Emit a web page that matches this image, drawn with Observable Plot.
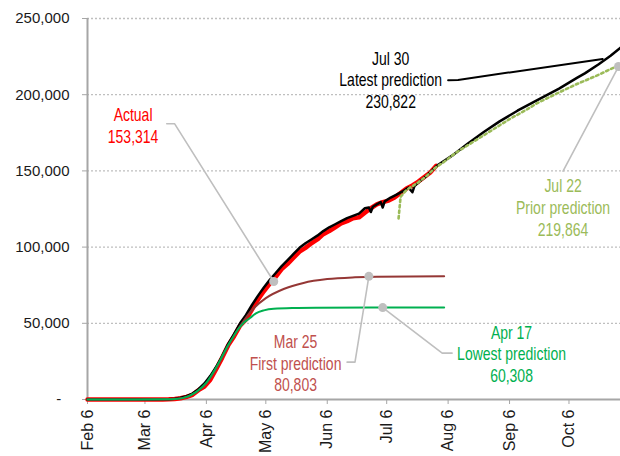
<!DOCTYPE html>
<html>
<head>
<meta charset="utf-8">
<script src="https://cdn.jsdelivr.net/npm/d3@7"></script>
<script src="https://cdn.jsdelivr.net/npm/@observablehq/plot@0.6"></script>
<style>
  html, body { margin: 0; padding: 0; background: #fff; }
  #chart svg { display: block; }
</style>
</head>
<body>
<div id="chart"></div>
<script>
// ---------- data ----------
const actualDates = ["2020-02-06","2020-02-29","2020-03-10","2020-03-15","2020-03-18","2020-03-21","2020-03-24","2020-03-27","2020-03-30","2020-04-02","2020-04-05","2020-04-08","2020-04-11","2020-04-14","2020-04-17","2020-04-20","2020-04-23","2020-04-26","2020-04-29","2020-05-02","2020-05-05","2020-05-08","2020-05-11","2020-05-14","2020-05-17","2020-05-20","2020-05-23","2020-05-26","2020-05-29","2020-06-01","2020-06-04","2020-06-07","2020-06-10","2020-06-13","2020-06-16","2020-06-19","2020-06-22","2020-06-25","2020-06-28","2020-07-01","2020-07-04","2020-07-07","2020-07-10","2020-07-13","2020-07-16","2020-07-19","2020-07-22","2020-07-25","2020-07-28","2020-07-31"];
const actualValues = [0,1,30,65,130,340,780,1700,3100,6100,8500,13000,20000,27500,35500,41500,48500,52500,59000,65500,71000,76000,80500,85500,89000,93000,97000,99500,102500,105000,108500,110500,113000,115500,117000,119000,119500,122500,125500,128000,129500,130500,132500,135500,138500,140500,143000,146000,149000,153314];

const latestDates = ["2020-02-06","2020-03-01","2020-03-10","2020-03-15","2020-03-18","2020-03-21","2020-03-24","2020-03-27","2020-03-30","2020-04-02","2020-04-05","2020-04-08","2020-04-11","2020-04-14","2020-04-17","2020-04-20","2020-04-23","2020-04-26","2020-04-29","2020-05-02","2020-05-05","2020-05-08","2020-05-11","2020-05-14","2020-05-17","2020-05-20","2020-05-23","2020-05-26","2020-05-29","2020-06-01","2020-06-04","2020-06-07","2020-06-10","2020-06-13","2020-06-16","2020-06-19","2020-06-22","2020-06-25","2020-06-27","2020-06-28","2020-06-29","2020-07-01","2020-07-03","2020-07-04","2020-07-05","2020-07-08","2020-07-11","2020-07-14","2020-07-17","2020-07-19","2020-07-20","2020-07-23","2020-07-26","2020-07-29","2020-08-01","2020-08-08","2020-08-16","2020-08-24","2020-09-01","2020-09-10","2020-09-20","2020-10-01","2020-10-10","2020-10-14","2020-10-21","2020-10-27","2020-11-01"];
const latestValues = [0,0,40,90,200,500,1100,2200,3900,6800,10500,15500,21500,28500,36500,43000,50000,55500,62000,68000,73500,78500,83000,87500,91500,95500,99500,102500,105000,107500,110500,113000,115000,117000,119000,120500,122000,125500,126000,123000,126500,128000,129500,126000,130000,132500,134500,136500,139000,136000,140000,143500,146500,150500,154000,160000,168000,175500,182500,189500,196500,204000,211000,214000,220000,225500,230822];

const priorDates = ["2020-07-12","2020-07-13","2020-07-16","2020-07-19","2020-07-22","2020-07-26","2020-07-30","2020-08-04","2020-08-10","2020-08-18","2020-08-26","2020-09-06","2020-09-15","2020-09-20","2020-10-01","2020-10-10","2020-10-20","2020-11-01"];
const priorValues = [118800,133000,137500,140000,142500,146500,151500,156000,162000,168500,175000,184000,190500,194500,201500,207000,212500,219864];

const firstDates = ["2020-02-06","2020-03-01","2020-03-15","2020-03-25","2020-04-01","2020-04-06","2020-04-10","2020-04-15","2020-04-20","2020-04-25","2020-04-30","2020-05-06","2020-05-15","2020-05-25","2020-06-06","2020-06-20","2020-07-01","2020-08-04"];
const firstValues = [0,0,100,1000,5000,10500,18000,30000,42000,52000,60000,66500,72500,76500,79000,80200,80600,80803];

const lowestDates = ["2020-02-06","2020-03-01","2020-03-20","2020-03-25","2020-04-01","2020-04-06","2020-04-10","2020-04-13","2020-04-16","2020-04-19","2020-04-22","2020-04-25","2020-04-28","2020-05-01","2020-05-05","2020-05-10","2020-05-20","2020-06-01","2020-07-01","2020-08-04"];
const lowestValues = [0,0,200,900,5000,11000,19000,26000,33500,40000,46000,50500,53500,56500,58500,59600,60050,60200,60300,60308];

const xTicks = ["2020-02-06","2020-03-06","2020-04-06","2020-05-06","2020-06-06","2020-07-06","2020-08-06","2020-09-06","2020-10-06"];
const yTicks = [0, 50000, 100000, 150000, 200000, 250000];
const xDomain = ["2020-02-06","2020-11-01"];

// annotation labels
const labelTexts  = ["Actual\n153,314", "Mar 25\nFirst prediction\n80,803", "Apr 17\nLowest prediction\n60,308", "Jul 22\nPrior prediction\n219,864", "Jul 30\nLatest prediction\n230,822"];
const labelDates  = ["2020-02-29", "2020-05-21", "2020-09-07", "2020-10-03", "2020-07-08"];
const labelValues = [168600, 5300, 11500, 107600, 191300];
const labelColors = ["#FF0000", "#C0504D", "#00B050", "#9BBB59", "#000000"];

// leader lines: [id, date, value]
const leaderIds    = ["a","a","a","f","f","f","l","l","l","p","p","k","k","k"];
const leaderDates  = ["2020-03-17","2020-03-21","2020-05-10","2020-06-16","2020-06-20","2020-06-27","2020-07-04","2020-08-03","2020-08-08","2020-10-03","2020-10-31","2020-08-06","2020-08-11","2020-10-23"];
const leaderValues = [180900,180900,77400,24500,24500,80803,60308,30400,30400,149800,218500,209500,209700,223500];
const dotDates  = ["2020-05-10","2020-06-27","2020-07-04","2020-10-31"];
const dotValues = [77400, 80803, 60308, 218500];

// ---------- build ----------
const P = d3.utcParse("%Y-%m-%d");
const rows = (ds, vs) => ds.map((d, i) => ({date: P(d), value: vs[i]}));
const actual = rows(actualDates, actualValues);
const latest = rows(latestDates, latestValues);
const prior = rows(priorDates, priorValues);
const first = rows(firstDates, firstValues);
const lowest = rows(lowestDates, lowestValues);
const labels = labelTexts.map((t, i) => ({text: t, date: P(labelDates[i]), value: labelValues[i], color: labelColors[i]}));
const leaders = leaderIds.map((id, i) => ({id, date: P(leaderDates[i]), value: leaderValues[i]}));
const dots = rows(dotDates, dotValues);

const gray = "#A6A6A6";

const chart = Plot.plot({
  width: 620,
  height: 456,
  marginLeft: 87,
  marginRight: 0,
  marginTop: 18,
  marginBottom: 57,
  style: {fontFamily: "'Liberation Sans', Arial, sans-serif", background: "#fff"},
  x: {type: "utc", domain: xDomain.map(P)},
  y: {domain: [0, 250000]},
  marks: [
    Plot.gridY(yTicks.filter(v => v > 0), {stroke: "#BFBFBF", strokeOpacity: 1, strokeWidth: 1.3, strokeDasharray: "2,2"}),
    Plot.ruleX([P(xDomain[0])], {stroke: gray, strokeWidth: 2}),
    Plot.ruleY([0], {stroke: gray, strokeWidth: 2}),
    Plot.axisY({ticks: yTicks, tickFormat: v => v === 0 ? "-\u00a0\u00a0" : d3.format(",")(v), tickSize: 5, tickPadding: 13, fontSize: 15, stroke: gray, fill: "#1a1a1a", label: null}),
    Plot.axisX({ticks: xTicks.map(P), tickFormat: d3.utcFormat("%b %-d"), tickRotate: -90, tickSize: 5, tickPadding: 5, fontSize: 16, stroke: gray, fill: "#1a1a1a", label: null}),
    Plot.line(actual, {x: "date", y: "value", stroke: "#FF0000", strokeWidth: 4.5}),
    Plot.line(latest, {x: "date", y: "value", stroke: "#000", strokeWidth: 2.5}),
    Plot.line(first, {x: "date", y: "value", stroke: "#953735", strokeWidth: 2, curve: "monotone-x"}),
    Plot.line(lowest, {x: "date", y: "value", stroke: "#00B050", strokeWidth: 2, curve: "monotone-x"}),
    Plot.line(prior, {x: "date", y: "value", stroke: "#9BBB59", strokeWidth: 2.6, strokeDasharray: "2.5,3"}),
    Plot.line(leaders.filter(d => d.id !== "k"), {x: "date", y: "value", z: "id", stroke: "#BFBFBF", strokeWidth: 1.6}),
    Plot.line(leaders.filter(d => d.id === "k"), {x: "date", y: "value", stroke: "#000", strokeWidth: 2}),
    Plot.dot(dots, {x: "date", y: "value", r: 4.5, fill: "#BFBFBF"}),
    Plot.text(labels, {x: "date", y: "value", text: "text", fill: "color", fontSize: 17.5, lineHeight: 1.24, lineAnchor: "bottom", textAnchor: "middle", fontFamily: "'Liberation Sans', Arial, sans-serif"})
  ]
});

// condense annotation text horizontally (narrow face look)
for (const t of chart.querySelectorAll('g[aria-label="text"] text')) {
  let tr = t.getAttribute("transform") || "";
  const x = t.getAttribute("x"), y = t.getAttribute("y");
  if (x != null || y != null) {
    tr += ` translate(${x || 0},${y || 0})`;
    t.removeAttribute("x");
    t.removeAttribute("y");
  }
  t.setAttribute("transform", (tr + " scale(0.8,1)").trim());
}
document.getElementById("chart").appendChild(chart);
</script>
</body>
</html>
